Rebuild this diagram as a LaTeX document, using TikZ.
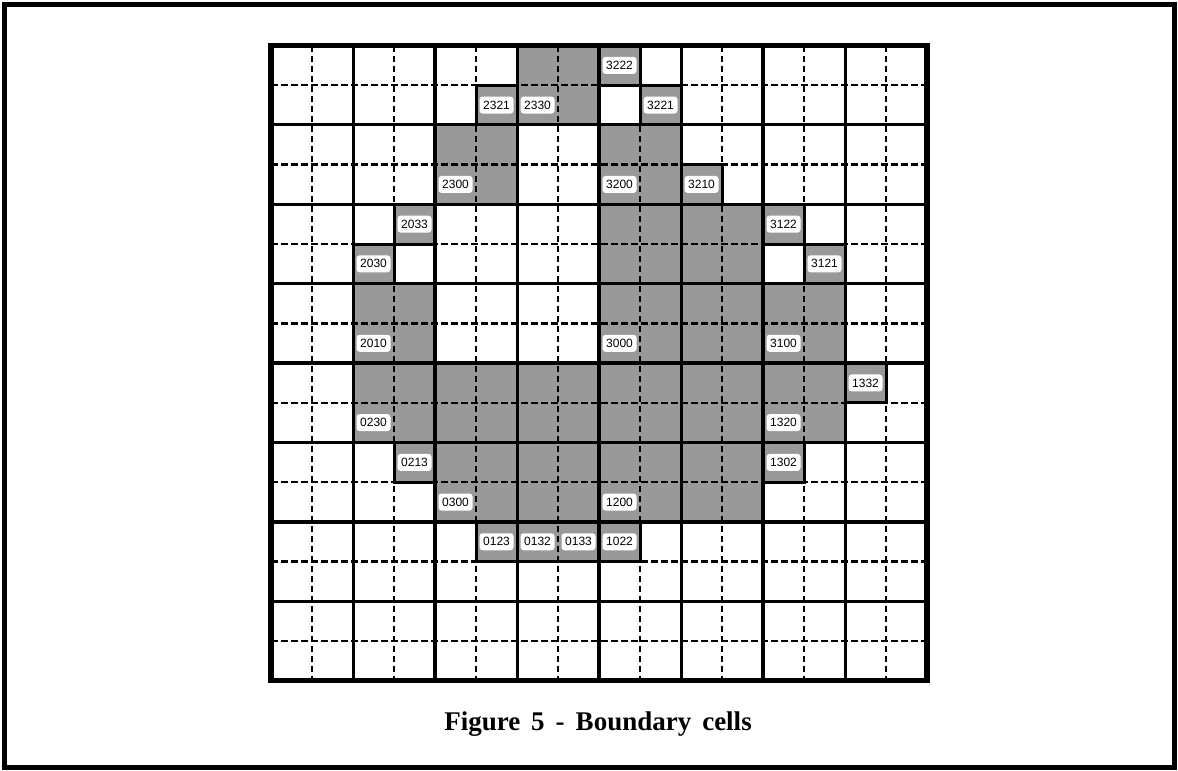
\documentclass[tikz,border=0pt]{standalone}
\usepackage{fontspec}
\setmainfont{Liberation Serif}
\newfontfamily\labfont{Liberation Sans}
\newcommand\wsp{\hspace{11pt}}
\begin{document}
\begin{tikzpicture}[x=1pt,y=-1pt,
  shadecell/.style={fill=black!40},
  dashline/.style={line width=2.4pt,dash pattern=on 6.5pt off 3.5pt},
  edgeline/.style={line width=3pt,line cap=rect},
  evenline/.style={line width=3pt},
  quarterline/.style={line width=3.4pt},
  halfline/.style={line width=4pt},
  gridframe/.style={line width=5.5pt},
  outerframe/.style={line width=5pt},
  cellbox/.style={fill=white,rounded corners=3pt,minimum width=34pt,minimum height=17pt,inner sep=0pt,font=\labfont\fontsize{12}{13}\selectfont},
  captionstyle/.style={font=\bfseries\fontsize{27}{30}\selectfont}]

\useasboundingbox (0,0) rectangle (1178,771);
\draw[outerframe] (4,4) rectangle (1174,767);

\def\shadedcells{6/0,7/0,8/0,
  5/1,6/1,7/1,9/1,
  4/2,5/2,8/2,9/2,
  4/3,5/3,8/3,9/3,10/3,
  3/4,8/4,9/4,10/4,11/4,12/4,
  2/5,8/5,9/5,10/5,11/5,13/5,
  2/6,3/6,8/6,9/6,10/6,11/6,12/6,13/6,
  2/7,3/7,8/7,9/7,10/7,11/7,12/7,13/7,
  2/8,3/8,4/8,5/8,6/8,7/8,8/8,9/8,10/8,11/8,12/8,13/8,14/8,
  2/9,3/9,4/9,5/9,6/9,7/9,8/9,9/9,10/9,11/9,12/9,13/9,
  3/10,4/10,5/10,6/10,7/10,8/10,9/10,10/10,11/10,12/10,
  4/11,5/11,6/11,7/11,8/11,9/11,10/11,11/11,
  5/12,6/12,7/12,8/12}

% shaded cells (column/row, row 0 at top)
\foreach \c/\r in \shadedcells {
  \fill[shadecell] ({271+41*\c},{45.5+39.7*\r}) rectangle ++(41,39.7);
  \expandafter\gdef\csname sh-\c-\r\endcsname{}
}

% dashed fine grid (odd lines)
\foreach \i in {1,3,...,15}{
  \draw[dashline] ({271+41*\i},45.5) -- ({271+41*\i},680.7);
  \draw[dashline] (271,{45.5+39.7*\i}) -- (927,{45.5+39.7*\i});
}

% solid edges between shaded and white cells
\foreach \c/\r in \shadedcells {
  \pgfmathtruncatemacro\cleft{\c-1}
  \pgfmathtruncatemacro\cright{\c+1}
  \pgfmathtruncatemacro\rup{\r-1}
  \pgfmathtruncatemacro\rdown{\r+1}
  \ifcsname sh-\cleft-\r\endcsname\else
    \draw[edgeline] ({271+41*\c},{45.5+39.7*\r}) -- ++(0,39.7);\fi
  \ifcsname sh-\cright-\r\endcsname\else
    \draw[edgeline] ({271+41*\c+41},{45.5+39.7*\r}) -- ++(0,39.7);\fi
  \ifcsname sh-\c-\rup\endcsname\else
    \draw[edgeline] ({271+41*\c},{45.5+39.7*\r}) -- ++(41,0);\fi
  \ifcsname sh-\c-\rdown\endcsname\else
    \draw[edgeline] ({271+41*\c},{45.5+39.7*\r+39.7}) -- ++(41,0);\fi
}

% solid coarse grid (even lines)
\foreach \i in {2,6,10,14}{
  \draw[evenline] ({271+41*\i},45.5) -- ({271+41*\i},680.7);
  \draw[evenline] (271,{45.5+39.7*\i}) -- (927,{45.5+39.7*\i});
}
\foreach \i in {4,12}{
  \draw[quarterline] ({271+41*\i},45.5) -- ({271+41*\i},680.7);
  \draw[quarterline] (271,{45.5+39.7*\i}) -- (927,{45.5+39.7*\i});
}
\draw[halfline] ({271+41*8},45.5) -- ({271+41*8},680.7);
\draw[halfline] (271,{45.5+39.7*8}) -- (927,{45.5+39.7*8});
\draw[gridframe] (271,45.5) rectangle (927,680.7);

% cell labels
\foreach \c/\r/\t [count=\k] in {8/0/3222,5/1/2321,6/1/2330,9/1/3221,
  4/3/2300,8/3/3200,10/3/3210,3/4/2033,12/4/3122,2/5/2030,13/5/3121,
  2/7/2010,8/7/3000,12/7/3100,14/8/1332,2/9/0230,12/9/1320,3/10/0213,
  12/10/1302,4/11/0300,8/11/1200,5/12/0123,6/12/0132,7/12/0133,8/12/1022}{
  \node[cellbox] (lab\k) at ({271+41*\c+20.5},{45.5+39.7*\r+19.85}) {\t};
}

\node[captionstyle,anchor=base] (cap) at (598,730) {Figure\wsp 5\wsp -\wsp Boundary\wsp cells};
\end{tikzpicture}
\end{document}
